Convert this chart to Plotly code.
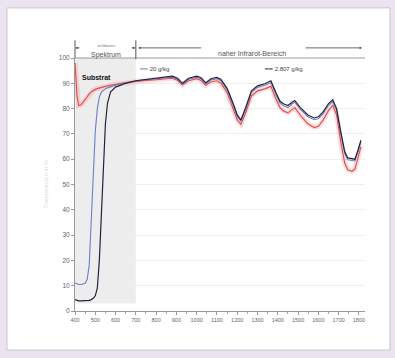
import plotly.graph_objects as go

# Transmission spectra (wavelength in nm, transmission in %)
wavelength = [400, 405, 410, 418, 430, 450, 460, 470, 480, 490,
              500, 510, 520, 530, 540, 550, 560, 575, 600, 650,
              700, 750, 800, 850, 880, 905, 930, 960, 1000, 1020,
              1045, 1070, 1100, 1120, 1150, 1180, 1200, 1218, 1240, 1270,
              1300, 1336, 1366, 1390, 1410, 1430, 1450, 1470, 1484, 1510,
              1548, 1580, 1600, 1622, 1650, 1671, 1690, 1710, 1730, 1745,
              1765, 1780, 1795, 1810]

t_2807 = [4.5, 4.3, 4.2, 4.0, 4.0, 4.0, 4.0, 4.2, 4.5, 5.0,
          6.0, 9, 20, 40, 60, 74, 82, 86.5, 88.5, 90,
          91, 91.5, 92, 92.5, 92.8, 92, 90, 92, 92.8, 92.3,
          90.2, 91.8, 92.3, 91.5, 88, 82, 77.5, 75.5, 80, 87,
          89, 89.8, 91, 86.5, 83, 81.8, 81.2, 82.5, 83.2, 80.5,
          77.5, 76.3, 76.8, 78.5, 82, 83.5, 80, 71, 63, 60.5,
          60.2, 60, 63.5, 67.5]

t_20 = [11, 11, 10.8, 10.5, 10.5, 11, 12.5, 18, 34, 55,
        71, 80, 84.5, 86.5, 87.3, 87.8, 88.2, 88.6, 89.2, 90.2,
        91, 91.4, 91.8, 92.2, 92.4, 91.6, 89.7, 91.6, 92.4, 91.9,
        89.8, 91.3, 91.8, 91, 87.5, 81.3, 76.8, 75, 79.4, 86.4,
        88.4, 89.2, 90.3, 85.8, 82.3, 81, 80.4, 81.8, 82.5, 79.8,
        76.8, 75.6, 76, 77.8, 81.3, 82.8, 79.3, 70.3, 62.2, 59.8,
        59.5, 59.3, 62.8, 66.8]

t_substrat = [98, 91, 85, 81.2, 81.5, 83.5, 84.8, 85.8, 86.6, 87.2,
              87.6, 87.9, 88.2, 88.4, 88.6, 88.8, 89, 89.3, 89.6, 90.3,
              90.8, 91.1, 91.4, 91.8, 92, 91.2, 89.3, 91, 91.8, 91.2,
              89.2, 90.6, 91, 90, 86.3, 79.8, 75.5, 73.8, 78, 85,
              87, 87.8, 88.8, 84, 80.5, 79, 78.3, 79.6, 80.4, 77.5,
              74, 72.5, 73, 75.2, 79.3, 81.3, 77.5, 67, 58.5, 55.8,
              55.2, 56, 60.5, 65]

x_ticks = [400, 500, 600, 700, 800, 900, 1000, 1100, 1200,
           1300, 1400, 1500, 1600, 1700, 1800]
y_ticks = [0, 10, 20, 30, 40, 50, 60, 70, 80, 90, 100]

visible_band = (400, 700)
x_range = [400, 1830]

FONT = "Liberation Sans, Arial, sans-serif"
C_BLACK = "#22253a"
C_BLUE = "#6f7cc8"
C_RED = "#e2504e"


def xp(v):
    """wavelength -> paper x"""
    return (v - x_range[0]) / (x_range[1] - x_range[0])


fig = go.Figure()

# substrate: soft wide halo under the red line
fig.add_trace(go.Scatter(x=wavelength, y=t_substrat, mode="lines",
                         line=dict(color="rgba(235,110,110,0.22)", width=5),
                         hoverinfo="skip", showlegend=False))
fig.add_trace(go.Scatter(x=wavelength, y=t_substrat, mode="lines", name="Substrat",
                         line=dict(color=C_RED, width=1.2), showlegend=False))
fig.add_trace(go.Scatter(x=wavelength, y=t_20, mode="lines", name="20 g/kg",
                         line=dict(color=C_BLUE, width=1.1), showlegend=False))
fig.add_trace(go.Scatter(x=wavelength, y=t_2807, mode="lines", name="2.807 g/kg",
                         line=dict(color=C_BLACK, width=1.2), showlegend=False))

shapes = [
    # white card with grey border
    dict(type="rect", xref="paper", yref="paper", x0=-0.2345, x1=1.086,
         y0=-0.154, y1=1.198, fillcolor="white",
         line=dict(color="#c9c6cc", width=1), layer="below"),
    # visible spectrum band
    dict(type="rect", xref="x", yref="y", x0=visible_band[0], x1=visible_band[1],
         y0=3, y1=100, fillcolor="#ededed", line=dict(width=0), layer="below"),
    # top frame line
    dict(type="line", xref="paper", yref="paper", x0=0, x1=1, y0=1, y1=1,
         line=dict(color="#9a9a9a", width=1)),
    # bracket bars around the visible range
    dict(type="line", xref="paper", yref="paper", x0=0, x1=0, y0=1, y1=1.07,
         line=dict(color="#555", width=1)),
    dict(type="line", xref="paper", yref="paper", x0=xp(700), x1=xp(700),
         y0=0.995, y1=1.07, line=dict(color="#555", width=1)),
]

ya = 1.04
annotations = [
    # visible range arrows
    dict(x=402, y=ya, xref="x", yref="paper", ax=430, ay=0, axref="x", ayref="pixel",
         showarrow=True, arrowhead=2, arrowsize=0.6, arrowwidth=0.8, arrowcolor="#444", text=""),
    dict(x=698, y=ya, xref="x", yref="paper", ax=670, ay=0, axref="x", ayref="pixel",
         showarrow=True, arrowhead=2, arrowsize=0.6, arrowwidth=0.8, arrowcolor="#444", text=""),
    dict(x=555, y=ya - 0.004, xref="x", yref="paper", text="Spektrum", showarrow=False,
         font=dict(family=FONT, size=7, color="#555")),
    dict(x=555, y=1.066, xref="x", yref="paper", text="sichtbares", showarrow=False,
         font=dict(family=FONT, size=4, color="#777")),
    # near infrared range arrows
    dict(x=712, y=ya, xref="x", yref="paper", ax=1030, ay=0, axref="x", ayref="pixel",
         showarrow=True, arrowhead=2, arrowsize=0.6, arrowwidth=0.8, arrowcolor="#444", text=""),
    dict(x=1815, y=ya, xref="x", yref="paper", ax=1530, ay=0, axref="x", ayref="pixel",
         showarrow=True, arrowhead=2, arrowsize=0.6, arrowwidth=0.8, arrowcolor="#444", text=""),
    dict(x=1272, y=ya, xref="x", yref="paper", text="naher Infrarot-Bereich", showarrow=False,
         font=dict(family=FONT, size=7, color="#555")),
    # series keys
    dict(x=xp(705), y=0.975, xref="paper", yref="paper", xanchor="left", showarrow=False,
         text=f"<span style='color:{C_BLUE}'>━━</span> 20 g/kg",
         font=dict(family=FONT, size=6, color="#444")),
    dict(x=xp(1320), y=0.975, xref="paper", yref="paper", xanchor="left", showarrow=False,
         text=f"<span style='color:{C_BLACK}'>━━</span> 2.807 g/kg",
         font=dict(family=FONT, size=6, color="#444")),
    dict(x=0.017, y=0.945, xref="paper", yref="paper", xanchor="left", showarrow=False,
         text="<b>Substrat</b>", font=dict(family=FONT, size=7, color="#111")),
    # faint axis title
    dict(x=-0.12, y=0.5, xref="paper", yref="paper", textangle=-90, showarrow=False,
         text="Transmission in %", font=dict(family=FONT, size=6, color="#dcdcdc")),
]

fig.update_layout(
    width=395, height=358,
    margin=dict(l=75, r=30, t=58, b=47, autoexpand=False),
    paper_bgcolor="#ebe3f0",
    plot_bgcolor="white",
    shapes=shapes,
    annotations=annotations,
    showlegend=False,
    xaxis=dict(range=x_range, tickvals=x_ticks, ticktext=[str(v) for v in x_ticks],
               showgrid=False, zeroline=False, showline=True, linecolor="#999",
               linewidth=1, ticks="outside", ticklen=3, tickcolor="#999",
               minor=dict(dtick=50, tick0=400, ticks="outside", ticklen=2, tickcolor="#aaa"),
               tickfont=dict(family=FONT, size=5.5, color="#666"), tickangle=0,
               automargin=False),
    yaxis=dict(range=[0, 100], tickvals=y_ticks, showgrid=True, gridcolor="#efefef",
               gridwidth=1, zeroline=False, showline=True, linecolor="#999", linewidth=1,
               ticks="outside", ticklen=3, tickcolor="#999",
               tickfont=dict(family=FONT, size=6.5, color="#666"), automargin=False),
)

fig.write_html("out.html")
